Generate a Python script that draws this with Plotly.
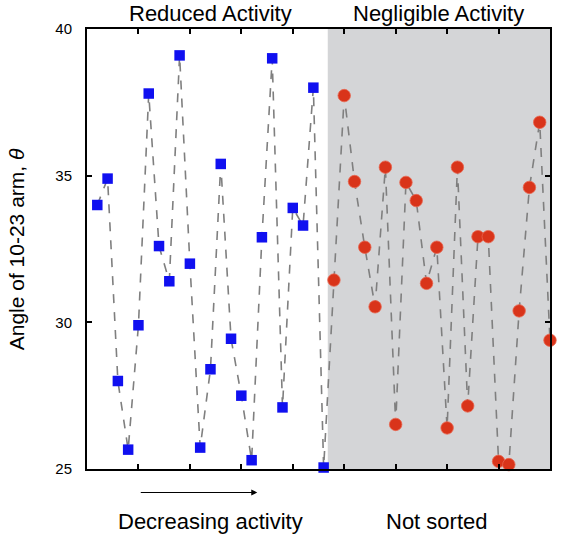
import plotly.graph_objects as go

# Data
reduced_idx = list(range(1, 24))
reduced_angle = [34.0, 34.9, 28.0, 25.66, 29.9, 37.8, 32.6, 31.4, 39.1, 32.0, 25.73,
                 28.4, 35.4, 29.44, 27.5, 25.3, 32.9, 39.0, 27.1, 33.9, 33.3, 38.0, 25.05]
negligible_idx = list(range(24, 46))
negligible_angle = [31.44, 37.73, 34.8, 32.56, 30.53, 35.29, 26.52, 34.77, 34.15, 31.33,
                    32.56, 26.40, 35.29, 27.15, 32.92, 32.92, 25.26, 25.15, 30.39, 34.6,
                    36.82, 29.39]
y_ticks = [25, 30, 35, 40]
x_ticks = [5, 10, 15, 20, 25, 30, 35, 40]
boundary = 23.4

all_idx = reduced_idx + negligible_idx
all_angle = reduced_angle + negligible_angle

fig = go.Figure()
fig.add_shape(type="rect", xref="x", yref="y", x0=boundary, x1=45, y0=25, y1=40,
              fillcolor="#d4d5d7", line=dict(width=0), layer="below")

fig.add_trace(go.Scatter(x=all_idx, y=all_angle, mode="lines",
                         line=dict(color="#7f7f7f", width=1.6, dash="dash"),
                         hoverinfo="skip", showlegend=False, cliponaxis=False))
fig.add_trace(go.Scatter(x=reduced_idx, y=reduced_angle, mode="markers",
                         marker=dict(symbol="square", size=10.5, color="#1010f0",
                                     line=dict(width=0)),
                         showlegend=False, cliponaxis=False))
fig.add_trace(go.Scatter(x=negligible_idx, y=negligible_angle, mode="markers",
                         marker=dict(symbol="circle", size=12.5, color="#d9341a",
                                     line=dict(width=0.8, color="#e8664f")),
                         showlegend=False, cliponaxis=False))

font = "Liberation Sans, Arial, Helvetica, sans-serif"
# plot area: 465 x 440 px, from (87, 29)
annots = [
    dict(text="Reduced Activity", x=(211 - 87) / 465, y=(469 - 14) / 440),
    dict(text="Negligible Activity", x=(440 - 87) / 465, y=(469 - 14) / 440),
    dict(text="Decreasing activity", x=(211 - 87) / 465, y=(469 - 521) / 440),
    dict(text="Not sorted", x=(439 - 87) / 465, y=(469 - 521) / 440),
]
ann_list = []
for a in annots:
    ann_list.append(dict(text=a["text"], x=a["x"], y=a["y"], xref="paper", yref="paper",
                         showarrow=False, xanchor="center", yanchor="middle",
                         font=dict(family=font, size=22, color="black")))
ann_list.append(dict(text="", x=(258 - 87) / 465, y=(469 - 492.5) / 440, xref="paper",
                     yref="paper", ax=-118, ay=0, showarrow=True, arrowhead=2,
                     arrowsize=1, arrowwidth=1.2, arrowcolor="black"))
ann_list.append(dict(text="Angle of 10-23 arm, <i>θ</i>", x=(16 - 87) / 465, y=0.5,
                     xref="paper", yref="paper", showarrow=False, textangle=-90,
                     xanchor="center", yanchor="middle",
                     font=dict(family=font, size=21, color="black")))

fig.update_layout(
    width=562, height=534,
    margin=dict(l=87, r=10, t=29, b=65),
    paper_bgcolor="white", plot_bgcolor="white",
    annotations=ann_list,
    font=dict(family=font, size=15, color="black"),
    xaxis=dict(range=[0, 45], tickvals=x_ticks, showticklabels=False,
               ticks="inside", ticklen=5, tickwidth=2, tickcolor="black",
               showline=True, linecolor="black", linewidth=2, mirror="ticks",
               showgrid=False, zeroline=False),
    yaxis=dict(range=[25, 40], tickvals=y_ticks, ticks="inside", ticklen=5,
               tickwidth=2, tickcolor="black", showline=True, linecolor="black",
               linewidth=2, mirror="ticks", showgrid=False, zeroline=False,
               ticklabelstandoff=10, tickfont=dict(family=font, size=15)),
)

# remove the default 8px body margin so the figure fills the window exactly
fig.write_html("out.html", config={"displayModeBar": False},
               post_script="document.body.style.margin='0';document.body.style.overflow='hidden';")
